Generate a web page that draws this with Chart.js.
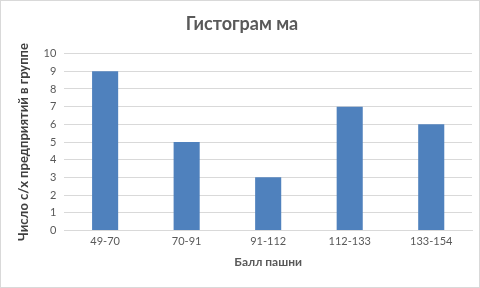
<!DOCTYPE html>
<html>
<head>
<meta charset="utf-8">
<script src="https://cdn.jsdelivr.net/npm/chart.js@4"></script>
<style>
  body { margin: 0; background: #fff; }
  #wrap { position: relative; width: 478px; height: 286px; border: 1px solid #d9d9d9; }
</style>
</head>
<body>
<div id="wrap"><canvas id="hist"></canvas></div>
<script>
var categories = ['49-70', '70-91', '91-112', '112-133', '133-154'];
var counts = [9, 5, 3, 7, 6];
var chartTitle = 'Гистограм ма';
var xTitle = 'Балл пашни';
var yTitle = 'Число с/х предприятий в группе';

var textColor = '#595959';

new Chart(document.getElementById('hist'), {
    type: 'bar',
    data: {
        labels: categories,
        datasets: [{
            data: counts,
            backgroundColor: '#4f81bd',
            barPercentage: 0.32,
            categoryPercentage: 1
        }]
    },
    options: {
        responsive: true,
        maintainAspectRatio: false,
        animation: false,
        layout: { padding: { left: 11, right: 7, top: 2, bottom: 14 } },
        plugins: {
            legend: { display: false },
            tooltip: { enabled: false },
            title: {
                display: true,
                text: chartTitle,
                color: textColor,
                font: { family: 'Lato', size: 18, weight: 'bold' },
                padding: { top: 10, bottom: 19 }
            }
        },
        scales: {
            x: {
                grid: { display: false, drawTicks: false },
                border: { color: '#d9d9d9' },
                ticks: { color: textColor, font: { family: 'Lato', size: 11 }, padding: 4 },
                title: {
                    display: true, text: xTitle, color: textColor,
                    font: { family: 'Lato', size: 12, weight: 'bold' }, padding: { top: 3 }
                }
            },
            y: {
                min: 0, max: 10,
                grid: { color: '#d9d9d9', drawTicks: false },
                border: { display: false },
                ticks: { stepSize: 1, color: textColor, font: { family: 'Lato', size: 11 }, padding: 8 },
                title: {
                    display: true, text: yTitle, color: '#404040',
                    font: { family: 'Lato', size: 13, weight: 'bold' }, padding: { bottom: 4 }
                }
            }
        }
    }
});
</script>
</body>
</html>
